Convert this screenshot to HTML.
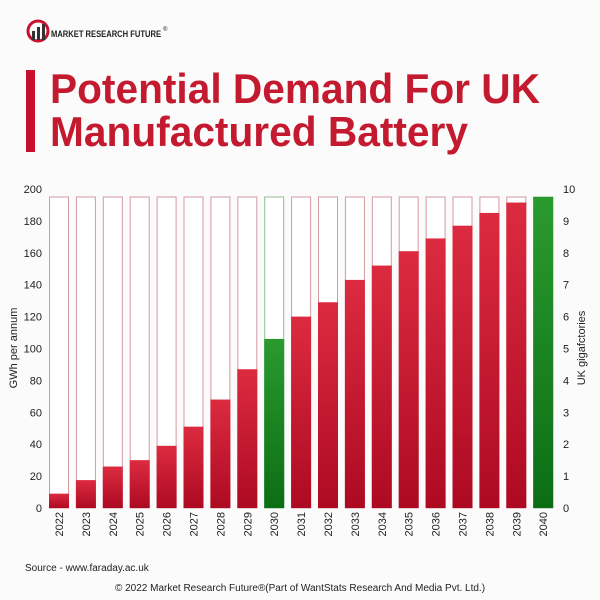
<!DOCTYPE html>
<html><head><meta charset="utf-8"><style>
html,body{margin:0;padding:0;background:#fff;}
svg{display:block;font-family:"Liberation Sans",sans-serif;}
</style></head><body>
<svg id="chart" width="600" height="600" viewBox="0 0 600 600" xmlns="http://www.w3.org/2000/svg">
<defs>
<linearGradient id="gRed" x1="0" y1="0" x2="0" y2="1"><stop offset="0" stop-color="#dc2b40"/><stop offset="1" stop-color="#ad0a22"/></linearGradient>
<linearGradient id="gGreen" x1="0" y1="0" x2="0" y2="1"><stop offset="0" stop-color="#2a9a2f"/><stop offset="1" stop-color="#0c6e14"/></linearGradient>
</defs>
<rect width="600" height="600" fill="#fbfbfb"/>
<g>
<circle cx="38" cy="31" r="10" fill="none" stroke="#c8102e" stroke-width="3"/>
<rect x="32" y="31" width="3" height="9" fill="#333"/><rect x="37" y="27" width="3" height="13" fill="#333"/><rect x="42" y="24" width="3" height="16" fill="#333"/>
<text x="51" y="37" font-size="9" font-weight="bold" fill="#222" textLength="110" lengthAdjust="spacingAndGlyphs">MARKET RESEARCH FUTURE</text>
<text x="163" y="31" font-size="6" fill="#222">®</text>
</g>
<rect x="26" y="70" width="9" height="82" fill="#c8102e"/>
<text x="50" y="103" font-size="42" font-weight="bold" fill="#c41a30" textLength="490" lengthAdjust="spacingAndGlyphs">Potential Demand For UK</text>
<text x="50" y="146" font-size="42" font-weight="bold" fill="#c41a30" textLength="418" lengthAdjust="spacingAndGlyphs">Manufactured Battery</text>
<g id="plot"></g>
<text x="25" y="571" font-size="10" fill="#222">Source - www.faraday.ac.uk</text>
<text x="300" y="591" font-size="10" fill="#222" text-anchor="middle">© 2022 Market Research Future®(Part of WantStats Research And Media Pvt. Ltd.)</text>
</svg>
<script>
const years = ["2022","2023","2024","2025","2026","2027","2028","2029","2030","2031","2032","2033","2034","2035","2036","2037","2038","2039","2040"];
const demand = [9,17.5,26,30,39,51,68,87,106,120,129,143,152,161,169,177,185,191.5,195];
const highlight = [0,0,0,0,0,0,0,0,1,0,0,0,0,0,0,0,0,0,1];
const leftTicks = [0,20,40,60,80,100,120,140,160,180,200];
const rightTicks = [0,1,2,3,4,5,6,7,8,9,10];
const capacity = 195;
const NS="http://www.w3.org/2000/svg";
const g=document.getElementById('plot');
const y0=508, y200=189;
function yScale(v){return y0-(v/200)*(y0-y200);}
function yRight(v){return yScale(v*20);}
function xScale(i){return 49+i*26.9;}
const bw=20;
function mk(t,a){const e=document.createElementNS(NS,t);for(const k in a)e.setAttribute(k,a[k]);g.appendChild(e);return e;}
leftTicks.forEach(v=>{
 const t=mk('text',{x:42,y:yScale(v)+4,'font-size':11,'text-anchor':'end',fill:'#222'});
 
 
 t.textContent=v;
});
rightTicks.forEach(v=>{
 const t=mk('text',{x:563,y:yRight(v)+4,'font-size':11,fill:'#222'});
 
 
 t.textContent=v;
});
years.forEach((yr,i)=>{
 const x=xScale(i);
 const o=mk('rect',{x:x+0.5,y:yScale(capacity),width:bw-1,height:yScale(0)-yScale(capacity),fill:'#fff',stroke:highlight[i]?'#8fbf8f':'#d49aa2','stroke-width':1});
 
 
 const b=mk('rect',{x:x,y:yScale(demand[i]),width:bw,height:yScale(0)-yScale(demand[i]),fill:highlight[i]?'url(#gGreen)':'url(#gRed)'});
 
 
 const t=mk('text',{x:0,y:0,'font-size':11,fill:'#222','text-anchor':'end',transform:`translate(${x+bw/2+4},512) rotate(-90)`});
 
 
 t.textContent=yr;
});
const yl=mk('text',{x:0,y:0,'font-size':11,fill:'#222','text-anchor':'middle',transform:'translate(17,348) rotate(-90)'});


yl.textContent='GWh per annum';
const yr2=mk('text',{x:0,y:0,'font-size':11,fill:'#222','text-anchor':'middle',transform:'translate(585,348) rotate(-90)'});


yr2.textContent='UK gigafctories';
</script>
</body></html>
